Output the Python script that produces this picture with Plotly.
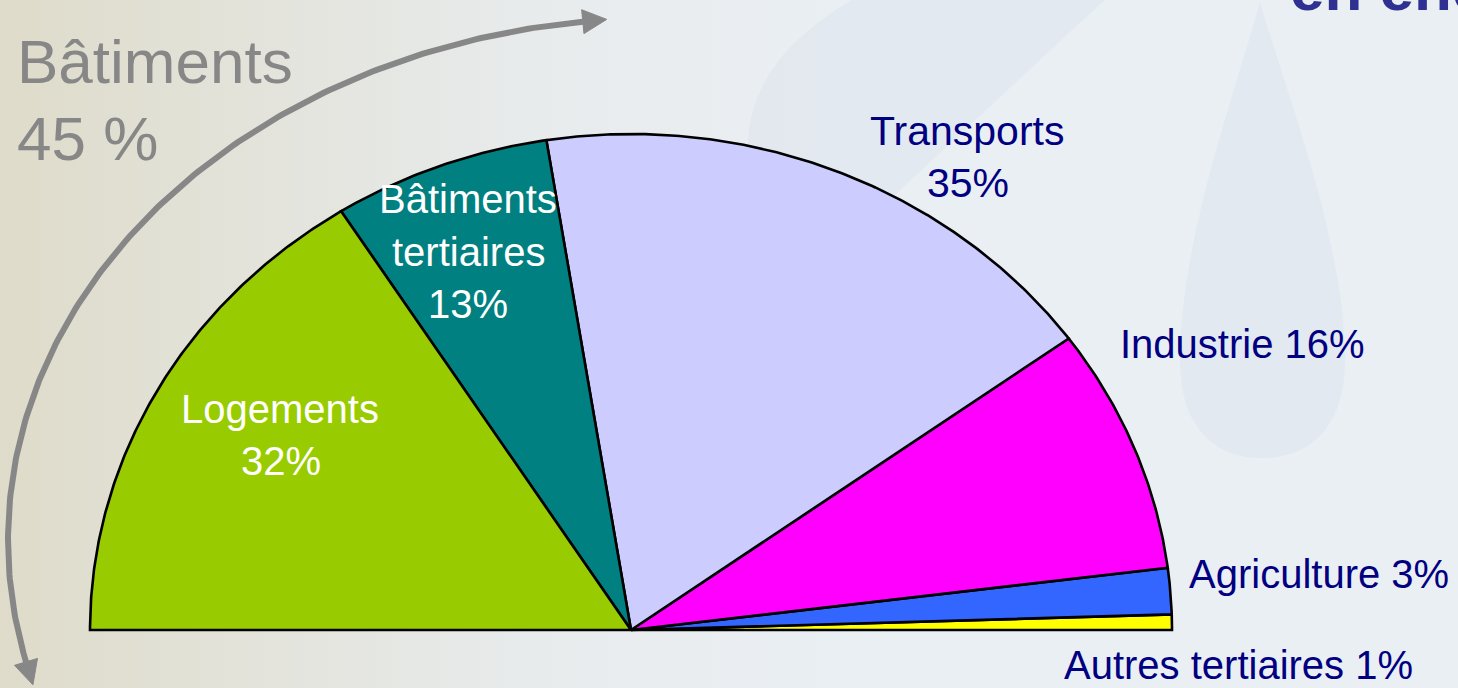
import numpy as np
import plotly.graph_objects as go

# ---------------- data ----------------
categories = ["Autres tertiaires", "Agriculture", "Industrie", "Transports",
              "Bâtiments tertiaires", "Logements"]
values = [1, 3, 16, 35, 13, 32]
slice_colors = ["#FFFF00", "#3366FF", "#FF00FF", "#CCCCFF", "#008080", "#99CC00"]
group_name = "Bâtiments"
group_members = ["Bâtiments tertiaires", "Logements"]
title_text = "en énergie finale"

# ---------------- geometry / styles ----------------
W, H = 1458, 688
CX, CY, RX, RY = 631, 630, 541, 496
FONT = "Liberation Sans, Arial, sans-serif"
NAVY = "#000080"

fig = go.Figure()

# background: translucent beige horizontal gradient on the left
fig.add_trace(go.Scatter(
    x=[0, 840, 840, 0, 0], y=[0, 0, H, H, 0], fill="toself", mode="lines",
    line=dict(width=0),
    fillgradient=dict(type="horizontal", colorscale=[
        [0, "rgba(208,195,150,0.45)"], [0.3, "rgba(208,195,150,0.27)"],
        [0.65, "rgba(208,195,150,0.08)"], [1, "rgba(208,195,150,0)"]]),
    hoverinfo="skip", showlegend=False))

# faint water-drop shapes in the background
shapes = [
    dict(type="path", xref="x", yref="y", layer="below",
         path="M 1260,2 C 1285,90 1345,240 1345,360 C 1345,425 1312,458 1262,458 "
              "C 1212,458 1180,425 1180,360 C 1180,240 1236,90 1260,2 Z",
         fillcolor="#E2E9F0", line=dict(width=0)),
    dict(type="path", xref="x", yref="y", layer="below",
         path="M 1110,-5 L 900,190 C 850,240 800,300 760,340 L 748,300 L 748,140 "
              "C 752,80 790,35 860,-5 Z",
         fillcolor="#E3E9F0", line=dict(width=0)),
]

# ---------------- half pie (slices) ----------------
total = sum(values)
cum = 0
for name, v, col in zip(categories, values, slice_colors):
    a0 = np.pi * cum / total
    a1 = np.pi * (cum + v) / total
    t = np.linspace(a0, a1, max(6, int(v * 5)))
    xs = np.concatenate([[CX], CX + RX * np.cos(t), [CX]])
    ys = np.concatenate([[CY], CY - RY * np.sin(t), [CY]])
    fig.add_trace(go.Scatter(x=xs, y=ys, fill="toself", fillcolor=col, mode="lines",
                             line=dict(color="black", width=2.6), name=name,
                             hoverinfo="name", showlegend=False))
    cum += v

# ---------------- curved double arrow around "Bâtiments" ----------------
ACX, ACY, ARX, ARY = 660, 540, 652, 522
th0, th1 = np.radians(96.8), np.radians(193.5)
tt = np.linspace(th0, th1, 200)
fig.add_trace(go.Scatter(x=ACX + ARX * np.cos(tt), y=ACY - ARY * np.sin(tt), mode="lines",
                         line=dict(color="#878787", width=6), hoverinfo="skip",
                         showlegend=False))


def head(th, sign, length=24, half=12):
    bx, by = ACX + ARX * np.cos(th), ACY - ARY * np.sin(th)
    dx, dy = -ARX * np.sin(th) * sign, -ARY * np.cos(th) * sign
    n = np.hypot(dx, dy)
    dx, dy = dx / n, dy / n
    px, py = -dy, dx
    return ([bx + px * half, bx + dx * length, bx - px * half, bx + px * half],
            [by + py * half, by + dy * length, by - py * half, by + py * half])


for th, sg in [(th0, -1), (th1, 1)]:
    hx, hy = head(th, sg)
    fig.add_trace(go.Scatter(x=hx, y=hy, fill="toself", fillcolor="#878787", mode="lines",
                             line=dict(color="#878787", width=1), hoverinfo="skip",
                             showlegend=False))

# ---------------- texts (paper coordinates, pixel based) ----------------
annotations = []


def txt(s, x, baseline, size, color, anchor="center", bold=False):
    yc = baseline - 0.347 * size
    annotations.append(dict(
        text=f"<b>{s}</b>" if bold else s, x=x / W, y=1 - yc / H,
        xref="paper", yref="paper", xanchor=anchor, yanchor="middle", showarrow=False,
        font=dict(family=FONT, size=size, color=color)))


vals = dict(zip(categories, values))
gsum = sum(vals[k] for k in group_members)

# title (cut by the top of the slide)
txt(title_text, 1288, 10, 62, "#2E3192", anchor="left", bold=True)

# group label
txt(group_name, 15, 83, 62, "#878787", anchor="left")
txt(f"{gsum} %", 15, 160, 62, "#878787", anchor="left")

# slice labels
txt("Transports", 967, 145, 41, NAVY)
txt(f"{vals['Transports']}%", 968, 197, 41, NAVY)
txt("Bâtiments", 468, 213, 40, "white")
txt("tertiaires", 468, 266, 40, "white")
txt(f"{vals['Bâtiments tertiaires']}%", 468, 318, 40, "white")
txt("Logements", 280, 423, 40, "white")
txt(f"{vals['Logements']}%", 281, 475, 40, "white")
txt(f"Industrie {vals['Industrie']}%", 1118, 358, 40, NAVY, anchor="left")
txt(f"Agriculture {vals['Agriculture']}%", 1187, 588, 40, NAVY, anchor="left")
txt(f"Autres tertiaires {vals['Autres tertiaires']}%", 1062, 679, 40, NAVY, anchor="left")

fig.update_layout(
    width=W, height=H, margin=dict(l=0, r=0, t=0, b=0),
    paper_bgcolor="#EAEFF4", plot_bgcolor="rgba(0,0,0,0)",
    xaxis=dict(range=[0, W], visible=False, fixedrange=True),
    yaxis=dict(range=[H, 0], visible=False, fixedrange=True),
    shapes=shapes, annotations=annotations, showlegend=False,
)

fig.write_html("out.html", config={"displayModeBar": False},
               post_script="document.body.style.margin='0';"
                           "document.body.style.overflow='hidden';")
